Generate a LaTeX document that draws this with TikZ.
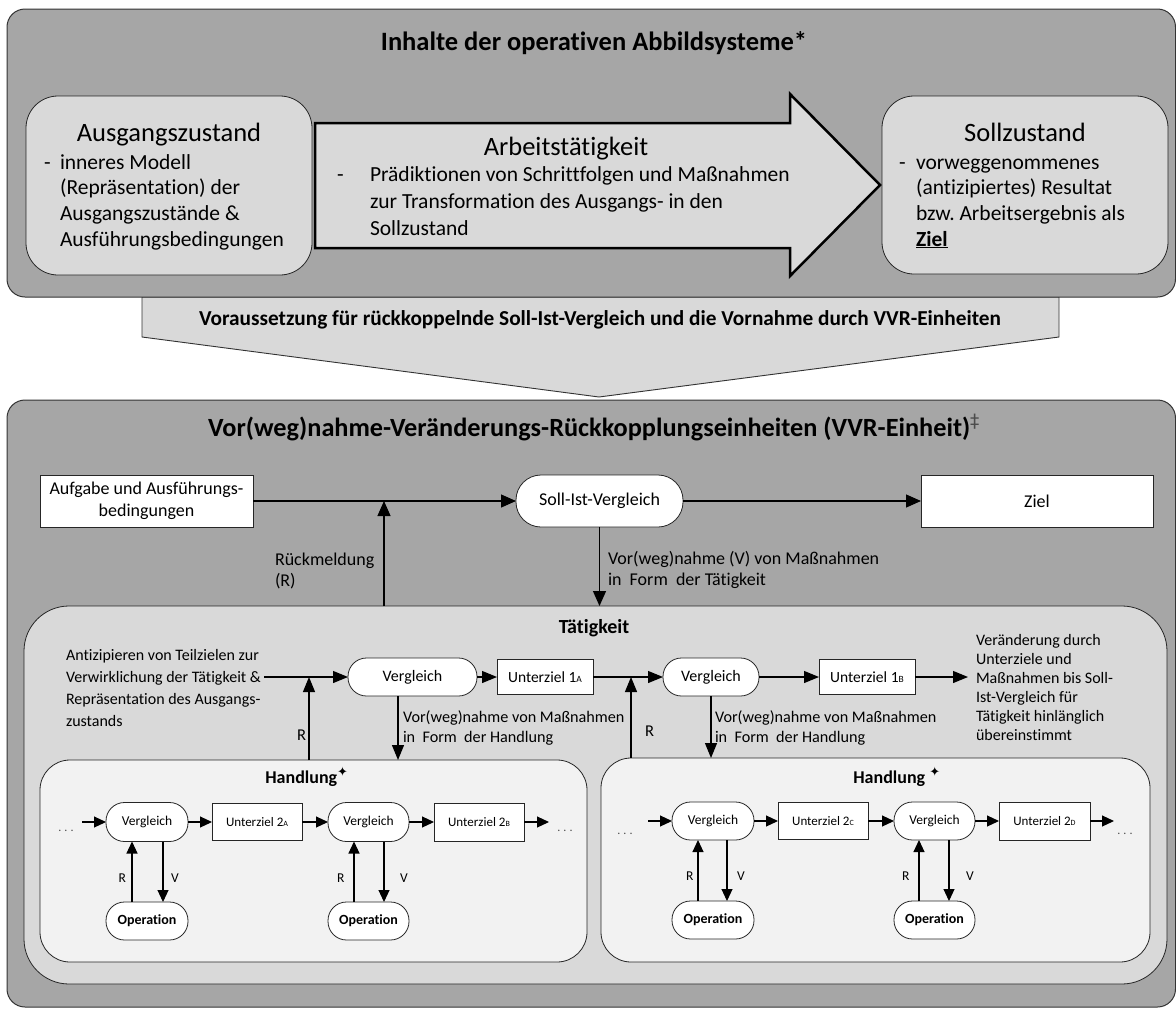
\documentclass[tikz,border=0pt]{standalone}
\usepackage{fontspec}
\setmainfont{Carlito}[Ligatures=NoCommon]
\newfontfamily\symf{DejaVu Sans}
\usetikzlibrary{arrows.meta}
\definecolor{pgray}{RGB}{166,166,166}
\definecolor{lgray}{RGB}{217,217,217}
\definecolor{hgray}{RGB}{242,242,242}
\newcommand{\fs}[2]{\fontsize{#1}{#2}\selectfont}
\newcommand{\smc}[2]{{\fontsize{#1}{#1}\selectfont #2}}
\frenchspacing
\begin{document}
\begin{tikzpicture}[x=1pt,y=-1pt,
  panel/.style={draw=black!80, line width=1pt, fill=pgray, rounded corners=18pt, inner sep=0pt, outer sep=0pt},
  box/.style={draw=black!85, line width=0.8pt, inner sep=0pt, outer sep=0pt},
  lbox/.style={box, fill=lgray, rounded corners=32pt},
  wbox/.style={box, fill=white},
  txt/.style={inner sep=0pt, outer sep=0pt},
  arr/.style={line width=1.2pt, -{Triangle[length=15pt,width=13pt]}},
  arrt/.style={line width=1.2pt, -{Triangle[length=15pt,width=12pt]}},
  arrh/.style={line width=1.1pt, -{Triangle[length=12pt,width=11pt]}},
  body/.style={txt, anchor=base west, align=left, font=\fs{21.5}{25.6}},
  mid/.style={txt, anchor=base west, align=left, font=\fs{18}{21.5}},
  hv/.style={box, fill=white, rounded corners=18.5pt, font=\fs{13.5}{16}},
  hu/.style={wbox, font=\fs{13}{16}},
  hop/.style={box, fill=white, rounded corners=18.5pt, font=\fs{14}{16}\bfseries},
  hlab/.style={txt, anchor=base west, font=\fs{13.5}{16}}
]
\useasboundingbox (0,0) rectangle (1176,1010);

% ---------- top panel ----------
\draw[draw=black!80, line width=0.9pt, fill=lgray] (142,297) -- (1059,297) -- (1059,337) -- (599,397) -- (142,337) -- cycle;
\node[panel, minimum width=1168.5pt, minimum height=288pt] (top) at (591.25,153) {};
\node[txt, anchor=base, font=\fs{26.5}{30}\bfseries] (t1) at (594,50.7) {Inhalte der operativen Abbildsysteme*};

\node[lbox, minimum width=286pt, minimum height=179pt] (az) at (169,185.5) {};
\node[txt, anchor=base, font=\fs{26.5}{30}] (azh) at (169,141.7) {Ausgangszustand};
\node[body] (azd) at (44,169.3) {-};
\node[body] (azt) at (60,246.1) {inneres Modell\\(Repräsentation) der\\Ausgangszustände \&\\Ausführungsbedingungen};

\draw[line width=2.5pt, fill=lgray, line join=miter] (315,123) -- (790,123) -- (790,94) -- (880,185) -- (790,276) -- (790,248) -- (315,248) -- cycle;
\node[txt, anchor=base, font=\fs{26.5}{30}] (ath) at (566,155) {Arbeitstätigkeit};
\node[txt, anchor=base west, font=\fs{21.5}{26.7}] (atd) at (337,181.7) {-};
\node[txt, anchor=base west, align=left, font=\fs{21.5}{26.7}] (att) at (370,235.1) {Prädiktionen von Schrittfolgen und Maßnahmen\\zur Transformation des Ausgangs- in den\\Sollzustand};

\node[lbox, minimum width=286pt, minimum height=178pt] (sz) at (1025,185) {};
\node[txt, anchor=base, font=\fs{26.5}{30}] (szh) at (1025,141.7) {Sollzustand};
\node[body] (szd) at (899,169.3) {-};
\node[body] (szt) at (916,246.1) {vorweggenommenes\\(antizipiertes) Resultat\\bzw.\ Arbeitsergebnis als\\\underline{\textbf{Ziel}}};

\node[txt, anchor=base, font=\fs{21.3}{24}\bfseries] (ct) at (600,325.5) {Voraussetzung für rückkoppelnde Soll-Ist-Vergleich und die Vornahme durch VVR-Einheiten};

% ---------- bottom panel ----------
\node[panel, minimum width=1168.5pt, minimum height=607pt] (bot) at (591.25,703.5) {};
\node[txt, anchor=base, font=\fs{26.3}{30}\bfseries] (t2) at (594,436.7) {Vor(weg)nahme-Veränderungs-Rückkopplungseinheiten (VVR-Einheit)\textsuperscript{\symf\mdseries\color{black!70}‡}};

\node[wbox, minimum width=213pt, minimum height=52pt, align=center, font=\fs{18}{21.5}] (aufg) at (146.5,501) {Aufgabe und Ausführungs-\\bedingungen};
\node[box, fill=white, rounded corners=25pt, minimum width=167pt, minimum height=52pt, font=\fs{18}{21.5}] (soll) at (599.5,501) {Soll-Ist-Vergleich};
\node[wbox, minimum width=232pt, minimum height=52pt, font=\fs{18}{21.5}] (ziel) at (1037,501) {Ziel};

\node[box, fill=lgray, rounded corners=45pt, minimum width=1143pt, minimum height=378pt] (taet) at (595.5,795) {};

\coordinate (j1) at (384,501);
\draw[arr] (aufg.east) -- (soll.west);
\draw[arr] (taet.north -| j1) -- (j1);
\draw[arr] (soll.south) -- (soll.south |- taet.north);
\draw[arr] (soll.east) -- (ziel.west);
\node[mid] (rl) at (275,586.5) {Rückmeldung\\(R)};
\node[mid] (vl) at (608,585.5) {Vor(weg)nahme (V) von Maßnahmen\\in\ \ Form\ \ der Tätigkeit};

% ---------- Tätigkeit ----------
\node[txt, anchor=base, font=\fs{20}{24}\bfseries] (tt) at (594,633) {Tätigkeit};
\node[txt, anchor=base west, align=left, font=\fs{16}{22.3}] (tl) at (66,726.9) {Antizipieren von Teilzielen zur\\Verwirklichung der Tätigkeit \&\\Repräsentation des Ausgangs-\\zustands};

\coordinate (s1) at (264,677);
\coordinate (j2) at (309,677);
\coordinate (j3) at (631,677);
\coordinate (e1) at (968,677);
\node[box, fill=white, rounded corners=18.5pt, minimum width=129pt, minimum height=38pt, font=\fs{16}{19}] (v1) at (412.5,677) {Vergleich};
\node[wbox, minimum width=96pt, minimum height=35pt, font=\fs{15.5}{19}] (u1a) at (545,677) {Unterziel 1\smc{9.5}{A}};
\node[box, fill=white, rounded corners=18.5pt, minimum width=96pt, minimum height=38pt, font=\fs{16}{19}] (v2) at (711,677) {Vergleich};
\node[wbox, minimum width=96pt, minimum height=35pt, font=\fs{15.5}{19}] (u1b) at (867,677) {Unterziel 1\smc{9.5}{B}};

\node[txt, anchor=base west, align=left, font=\fs{16}{19}] (tr) at (976,740) {Veränderung durch\\Unterziele und\\Maßnahmen bis Soll-\\Ist-Vergleich für\\Tätigkeit hinlänglich\\übereinstimmt};

\node[box, fill=hgray, rounded corners=30pt, minimum width=547pt, minimum height=202pt] (hl) at (313.5,861) {};
\node[box, fill=hgray, rounded corners=30pt, minimum width=549pt, minimum height=204pt] (hr) at (875.5,860) {};

\draw[arrt] (s1) -- (v1.west);
\draw[arrt] (hl.north -| j2) -- (j2);
\draw[arrt] (v1.east) -- (u1a.west);
\draw[arrt] (u1a.east) -- (v2.west);
\draw[arrt] (hr.north -| j3) -- (j3);
\draw[arrt] (v2.east) -- (u1b.west);
\draw[arrt] (u1b.east) -- (e1);
\draw[arrt] ([xshift=-14.5pt]v1.south) -- ([xshift=-14.5pt]v1.south |- hl.north);
\draw[arrt] (v2.south) -- (v2.south |- hr.north);

\node[txt, anchor=base west, font=\fs{16.5}{20}] (r1) at (297,740) {R};
\node[txt, anchor=base west, font=\fs{16.5}{20}] (r2) at (645,736) {R};
\node[txt, anchor=base west, align=left, font=\fs{16.2}{20}] (vh1) at (403,742) {Vor(weg)nahme von Maßnahmen\\in\ \ Form\ \ der Handlung};
\node[txt, anchor=base west, align=left, font=\fs{16.2}{20}] (vh2) at (715,742) {Vor(weg)nahme von Maßnahmen\\in\ \ Form\ \ der Handlung};

% ---------- Handlung left ----------
\node[txt, anchor=base, font=\fs{18}{22}\bfseries] (hlt) at (307,783) {Handlung\textsuperscript{\symf\fs{13}{13}✦}};
\coordinate (ha) at (82,822);
\coordinate (hb) at (549,822);
\node[hv, minimum width=82pt, minimum height=39pt] (va) at (147,822) {Vergleich};
\node[hu, minimum width=90pt, minimum height=37pt] (u2a) at (257,822) {Unterziel 2\smc{8}{A}};
\node[hv, minimum width=81pt, minimum height=39pt] (vb) at (368.5,822) {Vergleich};
\node[hu, minimum width=90pt, minimum height=38pt] (u2b) at (479,822) {Unterziel 2\smc{8}{B}};
\node[hop, minimum width=82pt, minimum height=38pt] (opa) at (147,921) {Operation};
\node[hop, minimum width=81pt, minimum height=38pt] (opb) at (368.5,921) {Operation};
\node[txt, font=\fs{12}{12}, text=black!70] (d1) at (66,831) {.\hspace{3pt}.\hspace{3pt}.};
\node[txt, font=\fs{12}{12}, text=black!70] (d2) at (565,831) {.\hspace{3pt}.\hspace{3pt}.};
\draw[arrh] (ha) -- (va.west);
\draw[arrh] (va.east) -- (u2a.west);
\draw[arrh] (u2a.east) -- (vb.west);
\draw[arrh] (vb.east) -- (u2b.west);
\draw[arrh] (u2b.east) -- (hb);
\draw[arrh] ([xshift=-15pt]opa.north) -- ([xshift=-15pt]va.south);
\draw[arrh] ([xshift=16pt]va.south) -- ([xshift=16pt]opa.north);
\draw[arrh] ([xshift=-14.5pt]opb.north) -- ([xshift=-14.5pt]vb.south);
\draw[arrh] ([xshift=15.5pt]vb.south) -- ([xshift=15.5pt]opb.north);
\node[hlab] (lra) at (118.5,882) {R};
\node[hlab] (lva) at (171,882) {V};
\node[hlab] (lrb) at (337,882) {R};
\node[hlab] (lvb) at (400,882) {V};

% ---------- Handlung right ----------
\node[txt, anchor=base, font=\fs{18}{22}\bfseries] (hrt) at (897,783) {Handlung \textsuperscript{\symf\fs{13}{13}✦}};
\coordinate (hc) at (648,821);
\coordinate (hd) at (1114,821);
\node[hv, minimum width=82pt, minimum height=38pt] (vc) at (713,821) {Vergleich};
\node[hu, minimum width=90pt, minimum height=37pt] (u2c) at (823,821) {Unterziel 2\smc{8}{C}};
\node[hv, minimum width=81pt, minimum height=38pt] (vd) at (934.5,821) {Vergleich};
\node[hu, minimum width=91pt, minimum height=38pt] (u2d) at (1044.5,821) {Unterziel 2\smc{8}{D}};
\node[hop, minimum width=82pt, minimum height=38pt] (opc) at (713,920) {Operation};
\node[hop, minimum width=81pt, minimum height=38pt] (opd) at (934.5,920) {Operation};
\node[txt, font=\fs{12}{12}, text=black!70] (d3) at (625,834) {.\hspace{3pt}.\hspace{3pt}.};
\node[txt, font=\fs{12}{12}, text=black!70] (d4) at (1125,834) {.\hspace{3pt}.\hspace{3pt}.};
\draw[arrh] (hc) -- (vc.west);
\draw[arrh] (vc.east) -- (u2c.west);
\draw[arrh] (u2c.east) -- (vd.west);
\draw[arrh] (vd.east) -- (u2d.west);
\draw[arrh] (u2d.east) -- (hd);
\draw[arrh] ([xshift=-15pt]opc.north) -- ([xshift=-15pt]vc.south);
\draw[arrh] ([xshift=14pt]vc.south) -- ([xshift=14pt]opc.north);
\draw[arrh] ([xshift=-15.5pt]opd.north) -- ([xshift=-15.5pt]vd.south);
\draw[arrh] ([xshift=14.5pt]vd.south) -- ([xshift=14.5pt]opd.north);
\node[hlab] (lrc) at (686,880) {R};
\node[hlab] (lvc) at (737,880) {V};
\node[hlab] (lrd) at (902,880) {R};
\node[hlab] (lvd) at (966,880) {V};
\end{tikzpicture}
\end{document}
